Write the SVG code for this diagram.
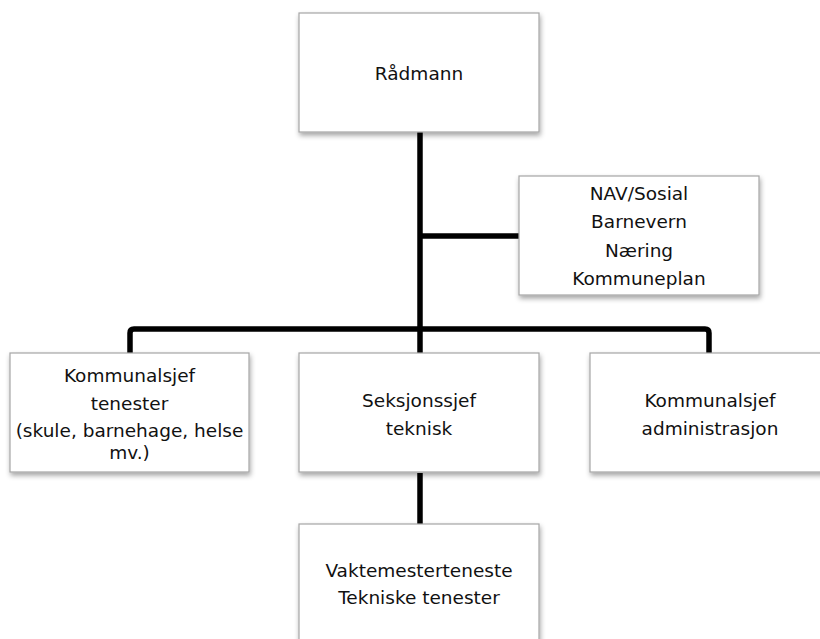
<svg xmlns="http://www.w3.org/2000/svg" width="820" height="639" viewBox="0 0 820 639">
<style>
.box{fill:#fff;stroke:#a6a6a6;stroke-width:1.2;filter:url(#sh)}
.t{font-family:"DejaVu Sans","Verdana",sans-serif;font-size:18.5px;fill:#111;text-anchor:middle}
.c{fill:none;stroke:#000;stroke-width:5.5;stroke-linejoin:round}
</style>
<defs>
<filter id="sh" x="-10%" y="-10%" width="125%" height="130%">
<feDropShadow dx="1" dy="3" stdDeviation="2.5" flood-color="#000" flood-opacity="0.35"/>
</filter>
</defs>
<rect width="820" height="639" fill="#fff"/>
<g id="connectors">
<path class="c" d="M420,132 V353"/>
<path class="c" d="M420,236 H519"/>
<path class="c" d="M130,353 V333 Q130,329 134,329 H705 Q709,329 709,333 V353"/>
<path class="c" d="M420,473 V524"/>
</g>
<g id="radmann">
<rect class="box" x="299" y="13" width="240" height="119"/>
<text class="t" x="419" y="80">Rådmann</text>
</g>
<g id="nav">
<rect class="box" x="519" y="176" width="240" height="119"/>
<text class="t" x="639" y="200">NAV/Sosial</text>
<text class="t" x="639" y="228">Barnevern</text>
<text class="t" x="639" y="257">Næring</text>
<text class="t" x="639" y="285">Kommuneplan</text>
</g>
<g id="tenester">
<rect class="box" x="10" y="353" width="239" height="119"/>
<text class="t" x="129.5" y="382">Kommunalsjef</text>
<text class="t" x="129.5" y="410">tenester</text>
<text class="t" x="129.5" y="437">(skule, barnehage, helse</text>
<text class="t" x="129.5" y="459">mv.)</text>
</g>
<g id="teknisk">
<rect class="box" x="299" y="353" width="240" height="119"/>
<text class="t" x="419" y="407">Seksjonssjef</text>
<text class="t" x="419" y="435">teknisk</text>
</g>
<g id="administrasjon">
<rect class="box" x="590" y="353" width="240" height="119"/>
<text class="t" x="710" y="407">Kommunalsjef</text>
<text class="t" x="710" y="435">administrasjon</text>
</g>
<g id="vaktmeister">
<rect class="box" x="299" y="524" width="240" height="125"/>
<text class="t" x="419" y="577">Vaktemesterteneste</text>
<text class="t" x="419" y="604">Tekniske tenester</text>
</g>
</svg>
